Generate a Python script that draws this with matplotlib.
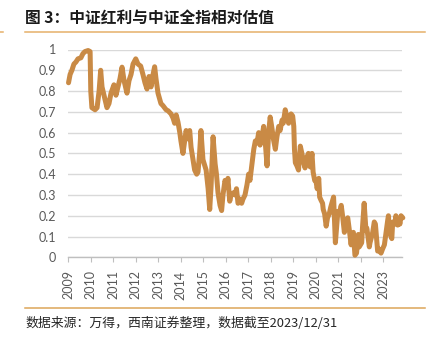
import matplotlib
matplotlib.use("Agg")
import matplotlib.pyplot as plt
from matplotlib.lines import Line2D

# Relative valuation of CSI Dividend vs CSI All Share (decimal years)
dates = [
    2009.01, 2009.08, 2009.16, 2009.25, 2009.34, 2009.43, 2009.56, 2009.65, 2009.74, 2009.88,
    2009.97, 2010.00, 2010.05, 2010.19, 2010.28, 2010.37, 2010.44, 2010.50, 2010.59, 2010.72,
    2010.81, 2010.90, 2011.03, 2011.12, 2011.21, 2011.30, 2011.39, 2011.48, 2011.61, 2011.70,
    2011.79, 2011.88, 2012.00, 2012.10, 2012.22, 2012.32, 2012.41, 2012.50, 2012.59, 2012.68,
    2012.77, 2012.84, 2012.90, 2012.99, 2013.12, 2013.21, 2013.35, 2013.44, 2013.57, 2013.66,
    2013.73, 2013.80, 2013.88, 2013.96, 2014.01, 2014.10, 2014.19, 2014.24, 2014.32, 2014.40,
    2014.46, 2014.55, 2014.62, 2014.71, 2014.77, 2014.84, 2014.90, 2014.99, 2015.13, 2015.22,
    2015.29, 2015.35, 2015.44, 2015.53, 2015.59, 2015.66, 2015.75, 2015.82, 2015.88, 2015.97,
    2016.06, 2016.10, 2016.18, 2016.24, 2016.33, 2016.42, 2016.48, 2016.55, 2016.64, 2016.71,
    2016.77, 2016.86, 2016.95, 2017.02, 2017.08, 2017.17, 2017.25, 2017.32, 2017.39, 2017.47,
    2017.53, 2017.62, 2017.69, 2017.75, 2017.84, 2017.91, 2017.98, 2018.06, 2018.13, 2018.21,
    2018.28, 2018.36, 2018.42, 2018.51, 2018.56, 2018.65, 2018.73, 2018.80, 2018.91, 2018.98,
    2019.03, 2019.06, 2019.10, 2019.17, 2019.24, 2019.32, 2019.39, 2019.47, 2019.53, 2019.61,
    2019.68, 2019.76, 2019.84, 2019.89, 2019.96, 2020.02, 2020.07, 2020.14, 2020.18, 2020.24,
    2020.31, 2020.34, 2020.40, 2020.47, 2020.53, 2020.61, 2020.67, 2020.76, 2020.80, 2020.88,
    2020.99, 2021.05, 2021.14, 2021.20, 2021.28, 2021.34, 2021.43, 2021.49, 2021.58, 2021.62,
    2021.68, 2021.75, 2021.82, 2021.90, 2021.94, 2022.05, 2022.09, 2022.16, 2022.24, 2022.28,
    2022.39, 2022.42, 2022.54, 2022.61, 2022.66, 2022.76, 2022.82, 2022.91, 2022.98, 2023.06,
    2023.11, 2023.21, 2023.24, 2023.28, 2023.39, 2023.43, 2023.53, 2023.57, 2023.65, 2023.71,
    2023.75, 2023.80, 2023.88,
]
ratio = [
    0.84, 0.88, 0.90, 0.93, 0.94, 0.955, 0.96, 0.98, 0.99, 0.995,
    0.99, 0.80, 0.72, 0.71, 0.72, 0.80, 0.90, 0.82, 0.78, 0.72,
    0.74, 0.79, 0.83, 0.78, 0.82, 0.86, 0.915, 0.85, 0.79, 0.85,
    0.88, 0.93, 0.955, 0.93, 0.92, 0.88, 0.84, 0.81, 0.87, 0.82,
    0.88, 0.917, 0.86, 0.79, 0.74, 0.73, 0.71, 0.705, 0.69, 0.67,
    0.645, 0.685, 0.65, 0.60, 0.56, 0.50, 0.57, 0.61, 0.57, 0.61,
    0.53, 0.47, 0.42, 0.40, 0.41, 0.50, 0.61, 0.47, 0.42, 0.33,
    0.23, 0.34, 0.58, 0.45, 0.40, 0.31, 0.25, 0.225, 0.30, 0.37,
    0.34, 0.38, 0.27, 0.30, 0.31, 0.30, 0.33, 0.26, 0.28, 0.26,
    0.28, 0.30, 0.35, 0.40, 0.37, 0.45, 0.52, 0.56, 0.55, 0.60,
    0.54, 0.58, 0.63, 0.57, 0.44, 0.60, 0.675, 0.62, 0.565, 0.52,
    0.58, 0.63, 0.61, 0.66, 0.645, 0.71, 0.67, 0.645, 0.69, 0.68,
    0.63, 0.52, 0.455, 0.44, 0.42, 0.535, 0.50, 0.455, 0.43, 0.48,
    0.50, 0.435, 0.50, 0.41, 0.37, 0.365, 0.33, 0.38, 0.29, 0.275,
    0.26, 0.23, 0.21, 0.15, 0.19, 0.21, 0.24, 0.275, 0.29, 0.07,
    0.22, 0.21, 0.25, 0.20, 0.12, 0.165, 0.19, 0.14, 0.06, 0.11,
    0.12, 0.01, 0.02, 0.11, 0.05, 0.07, 0.15, 0.26, 0.13, 0.14,
    0.05, 0.07, 0.12, 0.17, 0.16, 0.03, 0.04, 0.02, 0.04, 0.06,
    0.10, 0.18, 0.20, 0.12, 0.09, 0.17, 0.16, 0.20, 0.155, 0.18,
    0.16, 0.20, 0.19,
]
years = list(range(2009, 2024))
y_ticks = [0, 0.1, 0.2, 0.3, 0.4, 0.5, 0.6, 0.7, 0.8, 0.9, 1.0]
y_labels = ["0", "0.1", "0.2", "0.3", "0.4", "0.5", "0.6", "0.7", "0.8", "0.9", "1"]

title = "图 3：中证红利与中证全指相对估值"
source = "数据来源：万得，西南证券整理，数据截至2023/12/31"

W, H = 433, 339
fig = plt.figure(figsize=(W / 100, H / 100), dpi=100)
fig.patch.set_facecolor("white")

ax = fig.add_axes([68.3 / W, 1 - 257.3 / H, (401.7 - 68.3) / W, (257.3 - 49.5) / H])
ax.plot(dates, ratio, color="#C98A45", lw=3.6, solid_joinstyle="round",
        solid_capstyle="round", clip_on=False, zorder=3)

ax.set_xlim(2009.0, 2023.83)
ax.set_ylim(0, 1)
ax.set_yticks(y_ticks)
ax.set_yticklabels(y_labels)
ax.set_xticks(years)
ax.set_xticklabels([str(y) for y in years], rotation=90)

ax.yaxis.grid(True, color="#D9D9D9", lw=1.0)
ax.set_axisbelow(True)
for side in ("left", "right", "top"):
    ax.spines[side].set_visible(False)
ax.spines["bottom"].set_color("#BFBFBF")
ax.spines["bottom"].set_linewidth(1.0)

ax.tick_params(axis="y", length=0, pad=9, labelsize=9, labelcolor="#595959")
ax.tick_params(axis="x", direction="out", length=3.5, width=0.8, color="#BFBFBF",
               pad=6, labelsize=9, labelcolor="#595959")
for lab in ax.get_xticklabels() + ax.get_yticklabels():
    lab.set_fontfamily("Lato")

# Header and footer
fig.text(25 / W, 1 - 17.5 / H, title, fontsize=11.3, weight="bold", color="#1a1a1a",
         va="center", ha="left", family=["Noto Sans CJK SC", "DejaVu Sans"])
fig.add_artist(Line2D([25 / W, 425 / W], [1 - 31.5 / H] * 2, color="#E6B06A", lw=1.1))
fig.add_artist(Line2D([0, 3 / W], [1 - 31.5 / H] * 2, color="#E6B06A", lw=1.1))
fig.add_artist(Line2D([25 / W, 425 / W], [1 - 308.3 / H] * 2, color="#DCA558", lw=1.1))
fig.text(25 / W, 1 - 323.5 / H, source, fontsize=9.3, color="#262626",
         va="center", ha="left", family=["Noto Sans CJK SC", "DejaVu Sans"])

fig.savefig("out.png", dpi=100, facecolor="white")
